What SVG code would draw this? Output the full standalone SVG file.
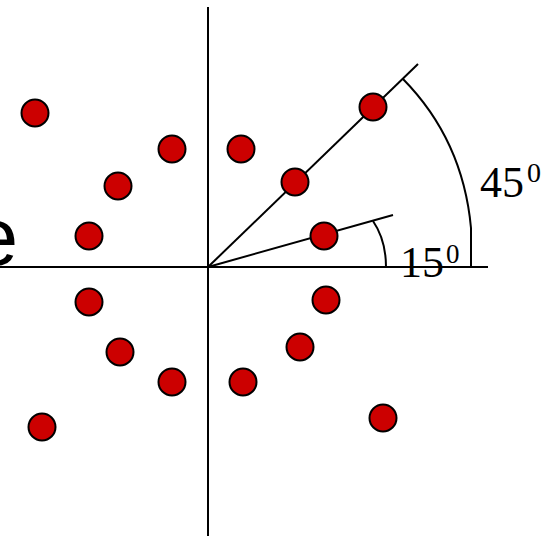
<svg xmlns="http://www.w3.org/2000/svg" width="558" height="536" viewBox="0 0 558 536">
<style>
.ln{stroke:#000;stroke-width:2;fill:none}
.dot{fill:#cc0000;stroke:#000;stroke-width:2}
.serif{font-family:"Liberation Serif","Times New Roman",serif;fill:#000}
.sans{font-family:"Liberation Sans",Arial,sans-serif;fill:#000}
</style>
<rect width="558" height="536" fill="#fff"/>
<text class="sans" x="18" y="265" font-size="82" text-anchor="end">e</text>
<g id="connectors">
<line class="ln" x1="208" y1="7" x2="208" y2="536"/>
<line class="ln" x1="0" y1="267" x2="488" y2="267"/>
<line class="ln" x1="208" y1="267" x2="418" y2="64"/>
<line class="ln" x1="208" y1="267" x2="393" y2="215"/>
<path class="ln" d="M403,79 Q463,140 471,228 L471,267"/>
<path class="ln" d="M373,221 Q386,240 386,267"/>
</g>
<g id="dots">
<circle id="d1" class="dot" cx="35" cy="113" r="13.5"/>
<circle id="d2" class="dot" cx="172" cy="149" r="13.5"/>
<circle id="d3" class="dot" cx="118" cy="186" r="13.5"/>
<circle id="d4" class="dot" cx="89" cy="236" r="13.5"/>
<circle id="d5" class="dot" cx="89" cy="302" r="13.5"/>
<circle id="d6" class="dot" cx="120" cy="352" r="13.5"/>
<circle id="d7" class="dot" cx="172" cy="382" r="13.5"/>
<circle id="d8" class="dot" cx="42" cy="427" r="13.5"/>
<circle id="d9" class="dot" cx="326" cy="300" r="13.5"/>
<circle id="d10" class="dot" cx="300" cy="347" r="13.5"/>
<circle id="d11" class="dot" cx="243" cy="382" r="13.5"/>
<circle id="d12" class="dot" cx="383" cy="418" r="13.5"/>
<circle id="d13" class="dot" cx="373" cy="107" r="13.5"/>
<circle id="d14" class="dot" cx="295" cy="182" r="13.5"/>
<circle id="d15" class="dot" cx="241" cy="149" r="13.5"/>
<circle id="d16" class="dot" cx="324" cy="236" r="13.5"/>
</g>
<g id="label45">
<text class="serif" x="480" y="197" font-size="44">45</text>
<text class="serif" x="527" y="182" font-size="28">0</text>
</g>
<g id="label15">
<text class="serif" x="400" y="277" font-size="44">15</text>
<text class="serif" x="446" y="263" font-size="27">0</text>
</g>
</svg>
